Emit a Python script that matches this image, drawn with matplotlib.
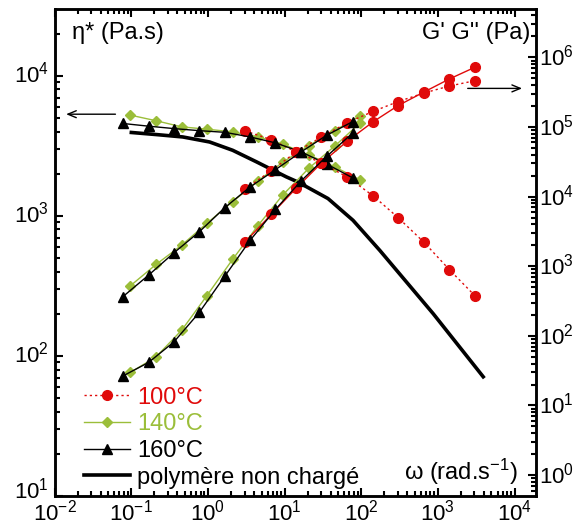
import matplotlib
matplotlib.use("Agg")
import matplotlib.pyplot as plt
from matplotlib.lines import Line2D
from matplotlib.ticker import FixedLocator, LogLocator, NullFormatter
from matplotlib.transforms import ScaledTranslation

plt.rcParams["font.family"] = ["Liberation Sans", "DejaVu Sans"]
plt.rcParams["mathtext.default"] = "regular"

RED = "#E00A0A"
GREEN = "#9BBE3A"
BLACK = "#000000"

# ── Data (ω in rad/s, η* in Pa.s, G', G'' in Pa) ────────────────────────────
omega_100 = [3.06, 6.7, 14.2, 30.2, 66, 143, 303, 656, 1406, 3020]
eta_100 = [4040, 3500, 2860, 2390, 1890, 1390, 971, 649, 414, 270]
gpp_100 = [12800, 23600, 44000, 71600, 115600, 167500, 231500, 307000, 387000, 461000]
gp_100 = [2240, 5550, 13250, 30300, 62700, 118800, 203000, 317000, 488000, 718000]

omega_140 = [0.097, 0.21, 0.455, 0.965, 2.09, 4.48, 9.5, 20.6, 45, 95.5]
eta_140 = [5240, 4780, 4320, 4160, 3980, 3670, 3250, 2730, 2240, 1810]
gpp_140 = [523, 1060, 2010, 4120, 8420, 16700, 31300, 54000, 88800, 143500]
gp_140 = [29.8, 49.9, 121, 376, 1250, 3830, 10600, 25400, 53200, 112700]

omega_160 = [0.077, 0.168, 0.36, 0.77, 1.66, 3.56, 7.6, 16.5, 35.7, 77]
eta_160 = [4570, 4370, 4200, 4060, 3950, 3660, 3320, 2860, 2340, 1870]
gpp_160 = [363, 745, 1560, 3120, 6950, 13800, 24400, 44000, 76500, 119000]
gp_160 = [26.4, 41.5, 82, 217, 721, 2370, 6550, 16900, 38200, 81700]

omega_ref = [0.1, 0.22, 0.47, 1.05, 2.1, 4.3, 10.5, 14.9, 36.8, 78, 175, 870, 3900]
eta_ref = [3940, 3800, 3660, 3370, 2940, 2430, 1900, 1745, 1330, 930, 566, 200, 71]

legend_labels = ["100°C", "140°C", "160°C", "polymère non chargé"]

x_ticks = [1e-2, 1e-1, 1e0, 1e1, 1e2, 1e3, 1e4]
x_ticklabels = ["$10^{-2}$", "$10^{-1}$", "$10^{0}$", "$10^{1}$", "$10^{2}$", "$10^{3}$", "$10^{4}$"]
eta_ticks = [1e1, 1e2, 1e3, 1e4]
eta_ticklabels = ["$10^{1}$", "$10^{2}$", "$10^{3}$", "$10^{4}$"]
g_ticks = [1e0, 1e1, 1e2, 1e3, 1e4, 1e5, 1e6]
g_ticklabels = ["$10^{0}$", "$10^{1}$", "$10^{2}$", "$10^{3}$", "$10^{4}$", "$10^{5}$", "$10^{6}$"]

# ── Figure ────────────────────────────────────────────────────────────────────
fig = plt.figure(figsize=(5.8, 5.27), dpi=100)
ax = fig.add_axes([0.0943, 0.0588, 0.8297, 0.9241])
ax2 = ax.twinx()

DOT = (0, (1.6, 2.2))
FS = 17      # annotation / legend text
TFS = 16     # tick labels

# η* (left axis)
ax.plot(omega_100, eta_100, color=RED, lw=1, ls=DOT, marker="o", ms=7, mec=RED, mfc=RED, zorder=4)
ax.plot(omega_140, eta_140, color=GREEN, lw=1, marker="D", ms=5.5, mec=GREEN, mfc=GREEN, zorder=3)
ax.plot(omega_160, eta_160, color=BLACK, lw=1, marker="^", ms=7.5, mec=BLACK, mfc=BLACK, zorder=5)
ax.plot(omega_ref, eta_ref, color=BLACK, lw=2.6, zorder=2)

# G'' and G' (right axis)
ax2.plot(omega_100, gpp_100, color=RED, lw=1, ls=DOT, marker="o", ms=7, mec=RED, mfc=RED, zorder=4)
ax2.plot(omega_100, gp_100, color=RED, lw=1, marker="o", ms=7, mec=RED, mfc=RED, zorder=4)
for g in (gpp_140, gp_140):
    ax2.plot(omega_140, g, color=GREEN, lw=1, marker="D", ms=5.5, mec=GREEN, mfc=GREEN, zorder=3)
for g in (gpp_160, gp_160):
    ax2.plot(omega_160, g, color=BLACK, lw=1, marker="^", ms=7.5, mec=BLACK, mfc=BLACK, zorder=5)

# ── Axes ──────────────────────────────────────────────────────────────────────
ax.set_xscale("log")
ax.set_yscale("log")
ax2.set_yscale("log")
ax.set_xlim(1e-2, 1.9e4)
ax.set_ylim(10, 10 ** 4.477)
ax2.set_ylim(10 ** -0.30, 10 ** 6.694)

ax.xaxis.set_major_locator(FixedLocator(x_ticks))
ax.set_xticklabels(x_ticklabels)
ax.yaxis.set_major_locator(FixedLocator(eta_ticks))
ax.set_yticklabels(eta_ticklabels)
ax2.yaxis.set_major_locator(FixedLocator(g_ticks))
ax2.set_yticklabels(g_ticklabels)
for a in (ax.xaxis, ax.yaxis, ax2.yaxis):
    a.set_minor_locator(LogLocator(base=10, subs=range(2, 10), numticks=20))
    a.set_minor_formatter(NullFormatter())

ax.tick_params(which="both", direction="in", top=True, right=False, width=1.5, labelsize=TFS)
ax.tick_params(which="major", length=6)
ax.tick_params(which="minor", length=3.5)
ax.tick_params(axis="x", pad=2.5)
ax.tick_params(axis="y", pad=4)
ax2.tick_params(which="both", direction="in", width=1.5, labelsize=TFS, pad=2)
ax2.tick_params(which="major", length=6)
ax2.tick_params(which="minor", length=3.5)

# y tick labels sit a little above their ticks in the reference
for i, lab in enumerate(ax.get_yticklabels()):
    dy = 0.08 if i == 0 else 0.04
    lab.set_transform(lab.get_transform() + ScaledTranslation(0, dy, fig.dpi_scale_trans))
for lab in ax2.get_yticklabels():
    lab.set_transform(lab.get_transform() + ScaledTranslation(0, 0.02, fig.dpi_scale_trans))

for a in (ax, ax2):
    for s in a.spines.values():
        s.set_linewidth(1.8)

# ── Texts and arrows ──────────────────────────────────────────────────────────
ax.text(0.035, 0.951, "η* (Pa.s)", transform=ax.transAxes, fontsize=FS, ha="left", va="center")
ax.text(0.9875, 0.951, "G' G'' (Pa)", transform=ax.transAxes, fontsize=FS, ha="right", va="center")
ax.text(0.9626, 0.05, "ω (rad.s$^{-1}$)", transform=ax.transAxes, fontsize=FS, ha="right", va="center")

arrow = dict(arrowstyle="->,head_length=0.6,head_width=0.25", color="black", lw=1)
ax.annotate("", xy=(0.018, 0.784), xytext=(0.132, 0.784), xycoords="axes fraction",
            textcoords="axes fraction", arrowprops=arrow)
ax.annotate("", xy=(0.977, 0.837), xytext=(0.8525, 0.837), xycoords="axes fraction",
            textcoords="axes fraction", arrowprops=arrow)

# ── Legend ────────────────────────────────────────────────────────────────────
handles = [
    Line2D([], [], color=RED, lw=1, ls=DOT, marker="o", ms=7, mfc=RED, mec=RED),
    Line2D([], [], color=GREEN, lw=1, marker="D", ms=5.5, mfc=GREEN, mec=GREEN),
    Line2D([], [], color=BLACK, lw=1, marker="^", ms=7.5, mfc=BLACK, mec=BLACK),
    Line2D([], [], color=BLACK, lw=2.6),
]
leg = ax2.legend(handles, legend_labels, loc="lower left", bbox_to_anchor=(0.061, 0.015),
                 frameon=False, fontsize=FS, handlelength=1.95, handletextpad=0.3,
                 labelspacing=0.2, borderpad=0.0, borderaxespad=0.0,
                 labelcolor=[RED, GREEN, BLACK, BLACK])

fig.savefig("out.png", dpi=100)
